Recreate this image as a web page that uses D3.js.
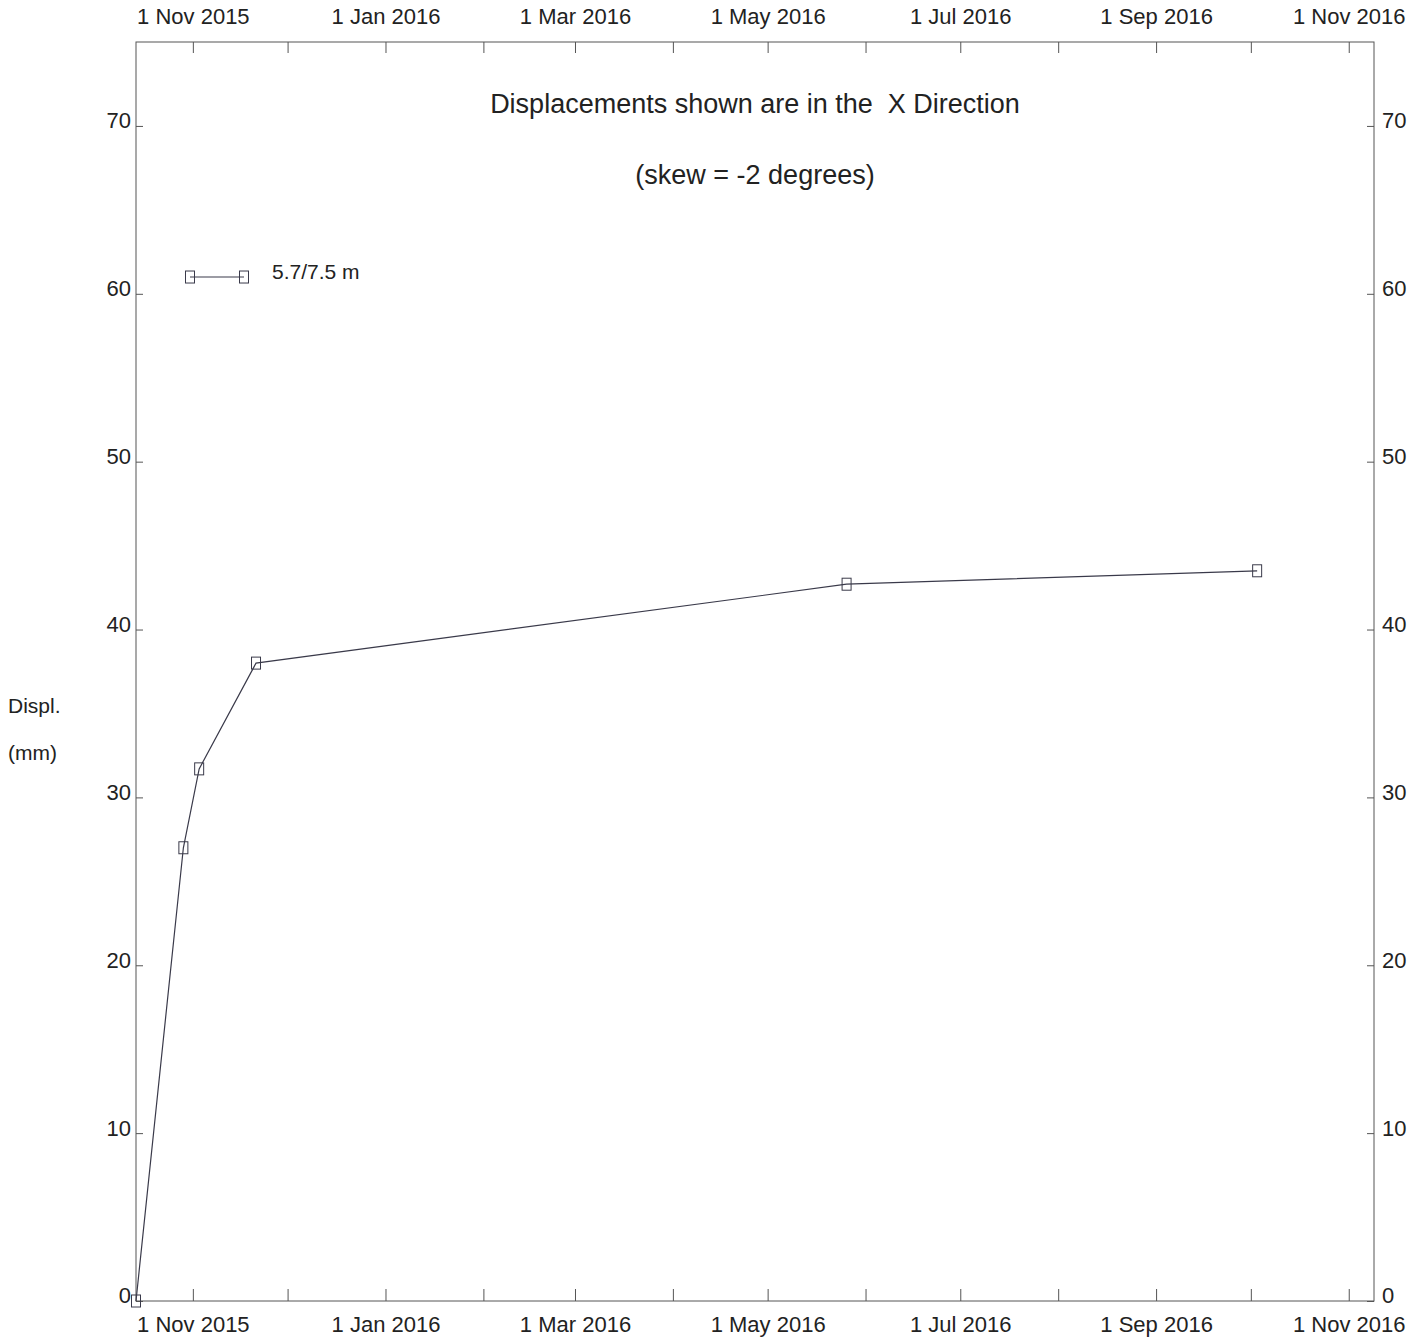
<!DOCTYPE html>
<html>
<head>
<meta charset="utf-8">
<script src="https://cdn.jsdelivr.net/npm/d3@7"></script>
<style>
  body { margin: 0; background: #fff; }
  text { font-family: "Liberation Sans", Arial, sans-serif; fill: #222; }
</style>
</head>
<body>
<div id="chart"></div>
<script>
// Readings for the 5.7/7.5 m gauge
const dates = ["2015-10-14", "2015-10-29", "2015-11-03", "2015-11-21", "2016-05-26", "2016-10-03"];
const displ = [0, 27.0, 31.7, 38.0, 42.7, 43.5];
const yTicks = [0, 10, 20, 30, 40, 50, 60, 70];
const seriesName = "5.7/7.5 m";
const legendValue = 61;

const parse = d3.timeParse("%Y-%m-%d");
const data = dates.map((d, i) => ({ date: parse(d), value: displ[i] }));

const W = 1424, H = 1343;
const margin = { top: 42, right: 50, bottom: 42, left: 136 };
const width = W - margin.left - margin.right;
const height = H - margin.top - margin.bottom;

const svg = d3.select("#chart").append("svg")
  .attr("width", W)
  .attr("height", H);

const g = svg.append("g")
  .attr("transform", `translate(${margin.left},${margin.top})`);

// Scales
const x = d3.scaleTime()
  .domain([parse("2015-10-14"), parse("2016-11-09")])
  .range([0, width]);

const y = d3.scaleLinear()
  .domain([0, 75])
  .range([height, 0]);

// monthly ticks, label every second month
const months = d3.timeMonth.range(parse("2015-11-01"), parse("2016-11-02"));
const fmt = d3.timeFormat("%-d %b %Y");
const labelFmt = (d) => (d.getMonth() % 2 === 0 ? fmt(d) : "");

function styleAxis(sel) {
  sel.select(".domain").remove();
  sel.selectAll("line").attr("stroke", "#555");
  sel.selectAll("text").style("font-size", "22px").attr("fill", "#222");
}

// frame
g.append("rect")
  .attr("width", width)
  .attr("height", height)
  .attr("fill", "none")
  .attr("stroke", "#555");

// Bottom axis
g.append("g")
  .attr("transform", `translate(0,${height})`)
  .call(d3.axisBottom(x).tickValues(months).tickFormat(labelFmt).tickSize(-12).tickPadding(15))
  .call(styleAxis);

// Top axis
g.append("g")
  .call(d3.axisTop(x).tickValues(months).tickFormat(labelFmt).tickSize(-11).tickPadding(18))
  .call(styleAxis);

// Left axis
g.append("g")
  .call(d3.axisLeft(y).tickValues(yTicks).tickSize(-7).tickPadding(5))
  .call(styleAxis)
  .selectAll("text").attr("dy", "0.09em");

// Right axis
g.append("g")
  .attr("transform", `translate(${width},0)`)
  .call(d3.axisRight(y).tickValues(yTicks).tickSize(-7).tickPadding(8))
  .call(styleAxis)
  .selectAll("text").attr("dy", "0.09em");

// Line
const line = d3.line()
  .x((d) => x(d.date))
  .y((d) => y(d.value));

g.append("path")
  .datum(data)
  .attr("fill", "none")
  .attr("stroke", "#3a3a4a")
  .attr("stroke-width", 1.2)
  .attr("d", line);

// Markers
g.selectAll(".mark")
  .data(data)
  .enter()
  .append("rect")
  .attr("class", "mark")
  .attr("x", (d) => x(d.date) - 4.5)
  .attr("y", (d) => y(d.value) - 6)
  .attr("width", 9)
  .attr("height", 12)
  .attr("fill", "none")
  .attr("stroke", "#3a3a4a")
  .attr("stroke-width", 1);

// Titles
g.append("text")
  .attr("x", width / 2)
  .attr("y", 71)
  .attr("text-anchor", "middle")
  .style("font-size", "27px")
  .style("white-space", "pre")
  .text("Displacements shown are in the  X Direction");

g.append("text")
  .attr("x", width / 2)
  .attr("y", 142)
  .attr("text-anchor", "middle")
  .style("font-size", "27px")
  .text("(skew = -2 degrees)");

// Y label
svg.append("text")
  .attr("x", 8)
  .attr("y", 713)
  .style("font-size", "21px")
  .text("Displ.");

svg.append("text")
  .attr("x", 8)
  .attr("y", 760)
  .style("font-size", "21px")
  .text("(mm)");

// Legend
const lx0 = 54, lx1 = 108, ly = y(legendValue);
const legend = g.append("g");
legend.append("line")
  .attr("x1", lx0).attr("x2", lx1)
  .attr("y1", ly).attr("y2", ly)
  .attr("stroke", "#3a3a4a")
  .attr("stroke-width", 1.2);
legend.selectAll("rect")
  .data([lx0, lx1])
  .enter()
  .append("rect")
  .attr("x", (d) => d - 4.5)
  .attr("y", ly - 6)
  .attr("width", 9)
  .attr("height", 12)
  .attr("fill", "none")
  .attr("stroke", "#3a3a4a");
legend.append("text")
  .attr("x", 136)
  .attr("y", ly + 2)
  .style("font-size", "21px")
  .text(seriesName);
</script>
</body>
</html>
